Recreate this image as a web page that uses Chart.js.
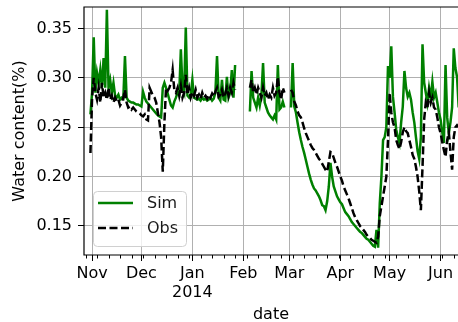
<!DOCTYPE html>
<html>
<head>
<meta charset="utf-8">
<script src="https://cdn.jsdelivr.net/npm/chart.js@4.4.1/dist/chart.umd.min.js"></script>
<style>
  html, body { margin: 0; padding: 0; background: #fff; overflow: hidden; }
  #wrap { width: 458px; height: 322px; }
</style>
</head>
<body>
<div id="wrap"><canvas id="c" width="458" height="322"></canvas></div>
<script>
// Daily soil water content, one value per day starting at firstDay (null = no record)
const firstDay = '2013-10-31';

const simValues = [
  0.263, 0.285, 0.341, 0.285, 0.305, 0.295, 0.308, 0.290, 0.320, 0.290,
  0.369, 0.290, 0.298, 0.285, 0.295, 0.282, 0.280, 0.283, 0.278, 0.280,
  0.279, 0.322, 0.280, 0.277, 0.276, 0.275, 0.275, 0.274, 0.273, 0.273,
  0.272, 0.271, 0.286, 0.280, 0.276, 0.274, 0.272, 0.270, 0.268, 0.266,
  0.264, 0.262, 0.261, 0.260, 0.290, 0.295, 0.290, 0.284, 0.278, 0.272,
  0.270, 0.276, 0.280, 0.285, 0.283, 0.329, 0.290, 0.285, 0.351, 0.282,
  0.280, 0.283, 0.298, 0.280, 0.279, 0.278, 0.279, 0.277, 0.280, 0.278,
  0.279, 0.277, 0.278, 0.280, 0.277, 0.279, 0.285, 0.322, 0.280, 0.277,
  0.298, 0.278, 0.277, 0.301, 0.280, 0.285, 0.308, 0.280, 0.313, null,
  null, null, null, null, null, null, null, 0.266, 0.307, 0.280,
  0.275, 0.270, 0.280, 0.272, 0.282, 0.315, 0.275, 0.270, 0.265, 0.262,
  0.260, 0.258, 0.262, 0.258, 0.313, 0.268, 0.270, 0.276, 0.270, null,
  null, null, 0.270, 0.315, 0.271, 0.265, 0.2545, 0.245, 0.237, 0.230,
  0.224, 0.217, 0.210, 0.203, 0.197, 0.192, 0.188, 0.186, 0.183, 0.180,
  0.176, 0.171, 0.170, 0.166, 0.175, 0.190, 0.214, 0.200, 0.190, 0.185,
  0.180, 0.177, 0.174, 0.172, 0.168, 0.164, 0.162, 0.160, 0.157, 0.154,
  0.152, 0.150, 0.148, 0.146, 0.144, 0.143, 0.141, 0.139, 0.137, 0.136,
  0.134, 0.132, 0.130, 0.129, 0.146, 0.128, 0.173, 0.200, 0.237, 0.240,
  0.250, 0.312, 0.300, 0.332, 0.281, 0.265, 0.2475, 0.240, 0.234, 0.255,
  0.271, 0.307, 0.290, 0.281, 0.285, 0.278, 0.265, 0.255, 0.240, 0.226,
  0.218, 0.240, 0.334, 0.295, 0.285, 0.275, 0.290, 0.280, 0.296, 0.280,
  0.285, 0.275, 0.265, 0.2576, 0.245, 0.234, 0.313, 0.260, 0.244, 0.255,
  0.270, 0.330, 0.310, 0.301, 0.270, 0.258
];

const obsValues = [
  0.224, 0.280, 0.300, 0.285, 0.278, 0.290, 0.275, 0.295, 0.280, 0.285,
  0.278, 0.290, 0.278, 0.282, 0.275, 0.280, 0.276, 0.278, 0.272, 0.275,
  0.280, 0.288, 0.275, 0.270, 0.271, 0.268, 0.270, 0.268, 0.266, 0.265,
  0.264, 0.262, 0.261, 0.263, 0.258, 0.257, 0.290, 0.286, 0.282, 0.280,
  0.275, 0.265, 0.255, 0.240, 0.205, 0.255, 0.290, 0.287, 0.290, 0.295,
  0.308, 0.288, 0.285, 0.290, 0.282, 0.292, 0.280, 0.285, 0.303, 0.283,
  0.290, 0.280, 0.285, 0.282, 0.288, 0.280, 0.283, 0.279, 0.285, 0.280,
  0.282, 0.279, 0.283, 0.280, 0.284, 0.281, 0.286, 0.290, 0.281, 0.283,
  0.288, 0.280, 0.284, 0.290, 0.282, 0.290, 0.285, 0.295, 0.288, null,
  null, null, null, null, null, null, null, 0.290, 0.298, 0.285,
  0.290, 0.283, 0.290, 0.285, 0.280, 0.290, 0.282, 0.285, 0.278, 0.283,
  0.280, 0.290, 0.282, 0.285, 0.301, 0.285, 0.278, 0.290, 0.285, null,
  null, null, 0.288, 0.285, 0.276, 0.272, 0.266, 0.262, 0.260, 0.255,
  0.249, 0.244, 0.240, 0.236, 0.232, 0.229, 0.227, 0.224, 0.221, 0.218,
  0.216, 0.213, 0.210, 0.207, 0.205, 0.215, 0.225, 0.224, 0.219, 0.214,
  0.210, 0.205, 0.200, 0.196, 0.190, 0.186, 0.182, 0.178, 0.173, 0.168,
  0.163, 0.159, 0.156, 0.153, 0.150, 0.148, 0.146, 0.144, 0.141, 0.139,
  0.138, 0.136, 0.135, 0.134, 0.133, 0.139, 0.160, 0.170, 0.180, 0.190,
  0.200, 0.237, 0.285, 0.265, 0.255, 0.250, 0.237, 0.232, 0.228, 0.235,
  0.245, 0.250, 0.246, 0.244, 0.237, 0.230, 0.222, 0.218, 0.210, 0.200,
  0.185, 0.166, 0.210, 0.258, 0.275, 0.270, 0.285, 0.275, 0.280, 0.270,
  0.268, 0.260, 0.250, 0.244, 0.235, 0.227, 0.220, 0.237, 0.245, 0.225,
  0.207, 0.240, 0.250, 0.252, 0.250, 0.240
];

// Axis ticks
const monthTicks = ['2013-11-01', '2013-12-01', '2014-01-01', '2014-02-01',
                    '2014-03-01', '2014-04-01', '2014-05-01', '2014-06-01'];
const monthLabels = ['Nov', 'Dec', ['Jan', '2014'], 'Feb', 'Mar', 'Apr', 'May', 'Jun'];
const firstMonday = '2013-10-28';
const yTicks = [0.15, 0.20, 0.25, 0.30, 0.35];

// Visible ranges
const xRange = ['2013-10-27T02:00:00Z', '2014-06-11T14:00:00Z'];
const yRange = [0.1206, 0.3718];

const DAY = 86400000;
const dayNum = s => Date.parse(s.length === 10 ? s + 'T00:00:00Z' : s) / DAY;
const start = dayNum(firstDay);
const toPoints = vals => vals.map((v, i) => ({ x: start + i, y: v }));
const monthDays = monthTicks.map(dayNum);

Chart.defaults.font.family = "'DejaVu Sans', sans-serif";
Chart.defaults.font.size = 16;
Chart.defaults.color = '#000';

// Spines and weekly minor ticks
const framePlugin = {
  id: 'frame',
  afterDatasetsDraw(chart) {
    const { ctx, chartArea: a, scales: { x } } = chart;
    ctx.save();
    ctx.strokeStyle = '#000';
    ctx.lineWidth = 1;
    for (let d = dayNum(firstMonday); d <= x.max; d += 7) {
      if (d < x.min || monthDays.includes(d)) continue;
      const px = Math.round(x.getPixelForValue(d)) + 0.5;
      ctx.beginPath();
      ctx.moveTo(px, a.bottom);
      ctx.lineTo(px, a.bottom + 3.5);
      ctx.stroke();
    }
    ctx.lineWidth = 1.2;
    ctx.beginPath();
    ctx.moveTo(a.right + 2, a.top);
    ctx.lineTo(a.left, a.top);
    ctx.lineTo(a.left, a.bottom);
    ctx.lineTo(a.right + 2, a.bottom);
    ctx.stroke();
    ctx.restore();
  }
};

// Framed legend in the lower-left corner of the plot
const legendPlugin = {
  id: 'boxLegend',
  afterDraw(chart) {
    const { ctx, chartArea: a } = chart;
    const w = 93, h = 55;
    const x0 = a.left + 9, y0 = a.bottom - 9 - h;
    ctx.save();
    ctx.beginPath();
    ctx.roundRect(x0 + 0.5, y0 + 0.5, w, h, 4);
    ctx.fillStyle = 'rgba(255,255,255,0.8)';
    ctx.fill();
    ctx.strokeStyle = '#d0d0d0';
    ctx.lineWidth = 1;
    ctx.stroke();
    ctx.font = "16px 'DejaVu Sans', sans-serif";
    ctx.textBaseline = 'middle';
    ctx.fillStyle = '#1a1a1a';
    chart.data.datasets.forEach((ds, i) => {
      const y = y0 + 12 + i * 25;
      ctx.beginPath();
      ctx.setLineDash(ds.borderDash || []);
      ctx.strokeStyle = ds.borderColor;
      ctx.lineWidth = ds.borderWidth;
      ctx.moveTo(x0 + 5, y);
      ctx.lineTo(x0 + 40, y);
      ctx.stroke();
      ctx.setLineDash([]);
      ctx.fillText(ds.label, x0 + 54, y + 1);
    });
    ctx.restore();
  }
};

new Chart(document.getElementById('c'), {
  type: 'line',
  data: {
    datasets: [
      {
        label: 'Sim',
        data: toPoints(simValues),
        borderColor: '#008000',
        borderWidth: 2.5,
        pointRadius: 0,
        tension: 0,
        spanGaps: false,
        order: 1
      },
      {
        label: 'Obs',
        data: toPoints(obsValues),
        borderColor: '#000000',
        borderWidth: 2.5,
        borderDash: [8, 3.5],
        pointRadius: 0,
        tension: 0,
        spanGaps: false,
        order: 0
      }
    ]
  },
  options: {
    responsive: false,
    animation: false,
    devicePixelRatio: 1,
    layout: { padding: { top: 7, right: 0, bottom: 0, left: 0 } },
    plugins: { legend: { display: false }, tooltip: { enabled: false } },
    scales: {
      x: {
        type: 'linear',
        min: dayNum(xRange[0]),
        max: dayNum(xRange[1]),
        afterBuildTicks: s => { s.ticks = monthDays.map(v => ({ value: v })); },
        afterFit: s => { s.height = 67; s.paddingLeft = 0; s.paddingRight = 0; },
        ticks: {
          autoSkip: false,
          maxRotation: 0,
          padding: 3,
          callback: v => monthLabels[monthDays.indexOf(v)]
        },
        grid: { color: '#b0b0b0', lineWidth: 1, tickColor: '#000', tickLength: 6 },
        border: { display: false },
        title: {
          display: true,
          text: 'date',
          font: { size: 16, lineHeight: 0.875 },
          padding: { top: 0, bottom: 0 }
        }
      },
      y: {
        type: 'linear',
        min: yRange[0],
        max: yRange[1],
        afterBuildTicks: s => { s.ticks = yTicks.map(v => ({ value: v })); },
        afterFit: s => { s.width = 84; s.paddingTop = 0; s.paddingBottom = 0; },
        ticks: { padding: 6, callback: v => v.toFixed(2) },
        grid: { color: '#b0b0b0', lineWidth: 1, tickColor: '#000', tickLength: 6 },
        border: { display: false },
        title: {
          display: true,
          text: 'Water content(%)',
          font: { size: 16 },
          padding: { top: 10, bottom: 0 }
        }
      }
    }
  },
  plugins: [framePlugin, legendPlugin]
});
</script>
</body>
</html>
